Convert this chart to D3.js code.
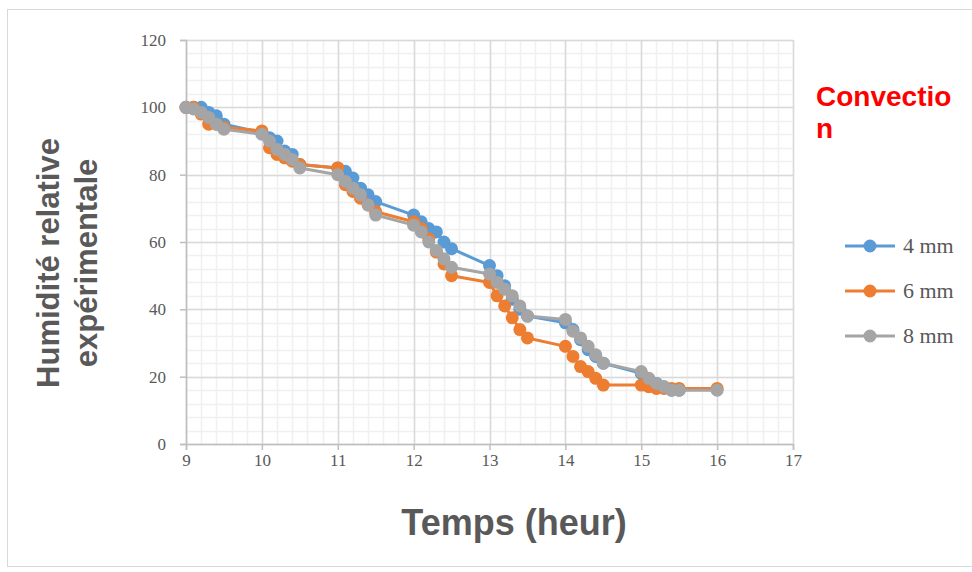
<!DOCTYPE html>
<html>
<head>
<meta charset="utf-8">
<script src="https://cdn.jsdelivr.net/npm/d3@7/dist/d3.min.js"></script>
<style>
  html, body { margin: 0; padding: 0; background: #fff; }
  svg { display: block; }
</style>
</head>
<body>
<svg id="chart" width="972" height="572"></svg>
<script>
// Sampling times (hours): six readings each half hour, then a jump to the next hour
const times = [9.0, 9.1, 9.2, 9.3, 9.4, 9.5,
               10.0, 10.1, 10.2, 10.3, 10.4, 10.5,
               11.0, 11.1, 11.2, 11.3, 11.4, 11.5,
               12.0, 12.1, 12.2, 12.3, 12.4, 12.5,
               13.0, 13.1, 13.2, 13.3, 13.4, 13.5,
               14.0, 14.1, 14.2, 14.3, 14.4, 14.5,
               15.0, 15.1, 15.2, 15.3, 15.4, 15.5, 16.0];

// Relative humidity (%) per slice thickness
const hum4mm = [100, 100, 100, 98.5, 97.5, 95,
                92.5, 91, 90, 87, 86, 83,
                82, 81, 79, 76, 74, 72,
                68, 66, 64, 63, 60, 58,
                53, 50, 47, 43, 40, 38,
                36, 34, 31, 28, 26, 24,
                21, 19, 18, 17, 16, 16];
const hum6mm = [100, 100, 98, 95, 95, 94,
                93, 88, 86, 85, 84, 83,
                82, 77, 75, 73, 71, 69,
                66, 64, 61, 57, 53.5, 50,
                48, 44, 41, 37.5, 34, 31.5,
                29, 26, 23, 21.5, 19.5, 17.5,
                17.5, 17, 16.5, 16.5, 16.5, 16.5, 16.5];
const hum8mm = [100, 99.5, 98.5, 97, 95, 93.5,
                92, 90, 87.5, 86, 84.5, 82,
                80, 78, 76, 74, 71, 68,
                65, 63, 60, 57.5, 55, 52.5,
                50.5, 48, 46, 44, 41, 38,
                37, 33.5, 31.5, 29, 26.5, 24,
                21.5, 19.5, 18, 17, 16, 16, 16];

const seriesNames = ["4 mm", "6 mm", "8 mm"];
const seriesColors = ["#5B9BD5", "#ED7D31", "#A5A5A5"];
const xTicks = [9, 10, 11, 12, 13, 14, 15, 16, 17];
const yTicks = [0, 20, 40, 60, 80, 100, 120];

const series = [hum4mm, hum6mm, hum8mm].map((vals, i) => ({
  name: seriesNames[i],
  color: seriesColors[i],
  points: vals.map((v, j) => ({ t: times[j], v }))
}));

const svg = d3.select("#chart");

// outer chart frame
svg.append("rect")
  .attr("x", 7.5).attr("y", 9.5)
  .attr("width", 970).attr("height", 557)
  .attr("fill", "#fff").attr("stroke", "#d9d9d9").attr("stroke-width", 1);

const plot = { left: 186, right: 793, top: 40, bottom: 444 };
const x = d3.scaleLinear().domain([9, 17]).range([plot.left, plot.right]);
const y = d3.scaleLinear().domain([0, 120]).range([plot.bottom, plot.top]);

const g = svg.append("g");

// minor gridlines
const minorX = d3.range(9, 17.0001, 0.2).map(d => +d.toFixed(1));
const minorY = d3.range(0, 120.0001, 4);
g.append("g").selectAll("line").data(minorX).join("line")
  .attr("x1", d => Math.round(x(d)) + 0.5).attr("x2", d => Math.round(x(d)) + 0.5)
  .attr("y1", plot.top).attr("y2", plot.bottom)
  .attr("stroke", "#f0f0f0").attr("stroke-width", 1.5);
g.append("g").selectAll("line").data(minorY).join("line")
  .attr("y1", d => Math.round(y(d)) + 0.5).attr("y2", d => Math.round(y(d)) + 0.5)
  .attr("x1", plot.left).attr("x2", plot.right)
  .attr("stroke", "#f0f0f0").attr("stroke-width", 1.5);

// major gridlines
g.append("g").selectAll("line").data(xTicks).join("line")
  .attr("x1", d => Math.round(x(d)) + 0.5).attr("x2", d => Math.round(x(d)) + 0.5)
  .attr("y1", plot.top).attr("y2", plot.bottom)
  .attr("stroke", "#d9d9d9").attr("stroke-width", 1.5);
g.append("g").selectAll("line").data(yTicks).join("line")
  .attr("y1", d => Math.round(y(d)) + 0.5).attr("y2", d => Math.round(y(d)) + 0.5)
  .attr("x1", plot.left).attr("x2", plot.right)
  .attr("stroke", "#d9d9d9").attr("stroke-width", 1.5);

// axes
const xAxis = d3.axisBottom(x).tickValues(xTicks).tickSize(6).tickPadding(4).tickFormat(d3.format("d"));
const yAxis = d3.axisLeft(y).tickValues(yTicks).tickSize(6).tickPadding(14).tickFormat(d3.format("d"));

const gx = svg.append("g").attr("transform", `translate(0,${plot.bottom})`).call(xAxis);
const gy = svg.append("g").attr("transform", `translate(${plot.left},0)`).call(yAxis);
[gx, gy].forEach(a => {
  a.select(".domain").attr("stroke", "#bfbfbf").attr("stroke-width", 1.5);
  a.selectAll(".tick line").attr("stroke", "#bfbfbf").attr("stroke-width", 1.5);
  a.selectAll(".tick text")
    .attr("fill", "#595959")
    .style("font-family", "'Liberation Serif', 'Times New Roman', serif")
    .style("font-size", "17px");
});

// series lines and markers
const line = d3.line().x(d => x(d.t)).y(d => y(d.v));
series.forEach(s => {
  const sg = svg.append("g");
  sg.append("path").datum(s.points)
    .attr("d", line).attr("fill", "none")
    .attr("stroke", s.color).attr("stroke-width", 3)
    .attr("stroke-linejoin", "round");
  sg.selectAll("circle").data(s.points).join("circle")
    .attr("cx", d => x(d.t)).attr("cy", d => y(d.v))
    .attr("r", 6.5).attr("fill", s.color);
});

// axis titles
svg.append("text")
  .attr("x", 514).attr("y", 535)
  .attr("text-anchor", "middle")
  .attr("fill", "#595959")
  .style("font-family", "'Liberation Sans', Arial, sans-serif")
  .style("font-weight", "bold").style("font-size", "36px")
  .text("Temps (heur)");

const yt = svg.append("text")
  .attr("transform", "rotate(-90)")
  .attr("text-anchor", "middle")
  .attr("fill", "#595959")
  .style("font-family", "'Liberation Sans', Arial, sans-serif")
  .style("font-weight", "bold").style("font-size", "31px");
yt.append("tspan").attr("x", -263).attr("y", 59).text("Humidité relative");
yt.append("tspan").attr("x", -263).attr("y", 97).text("expérimentale");

// annotation
const ann = svg.append("text")
  .attr("fill", "#ff0000")
  .style("font-family", "'Liberation Sans', Arial, sans-serif")
  .style("font-weight", "bold").style("font-size", "28px");
ann.append("tspan").attr("x", 816).attr("y", 106).text("Convectio");
ann.append("tspan").attr("x", 816).attr("y", 138).text("n");

// legend
const legend = svg.append("g");
series.forEach((s, i) => {
  const ly = 246 + i * 45;
  legend.append("line")
    .attr("x1", 845).attr("x2", 895).attr("y1", ly).attr("y2", ly)
    .attr("stroke", s.color).attr("stroke-width", 3);
  legend.append("circle").attr("cx", 870).attr("cy", ly).attr("r", 6.5).attr("fill", s.color);
  legend.append("text")
    .attr("x", 903).attr("y", ly + 7)
    .attr("fill", "#595959")
    .style("font-family", "'Liberation Serif', 'Times New Roman', serif")
    .style("font-size", "22px")
    .text(s.name);
});
</script>
</body>
</html>
